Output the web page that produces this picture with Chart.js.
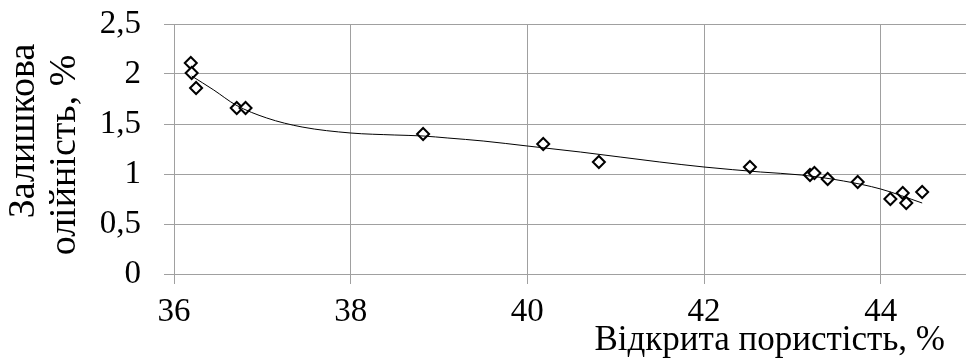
<!DOCTYPE html>
<html>
<head>
<meta charset="utf-8">
<script src="https://cdn.jsdelivr.net/npm/chart.js@4"></script>
<style>
  html, body { margin: 0; padding: 0; background: #fff; overflow: hidden; }
  #wrap { width: 966px; height: 363px; overflow: hidden; }
</style>
</head>
<body>
<div id="wrap"><canvas id="chart" width="969" height="363"></canvas></div>
<script>
// measured samples
const porosity = [36.19, 36.20, 36.25, 36.71, 36.81, 38.82, 40.18, 40.81, 42.52, 43.20, 43.25, 43.40, 43.74, 44.11, 44.25, 44.29, 44.47];
const residualOil = [2.11, 2.01, 1.86, 1.66, 1.66, 1.40, 1.30, 1.12, 1.07, 0.99, 1.01, 0.95, 0.92, 0.75, 0.81, 0.71, 0.82];

// trend line
const trendX = [36.2, 36.45, 36.7, 37.05, 37.45, 38.0, 38.5, 38.82, 39.1, 39.5, 40.0, 40.6, 41.05, 41.5, 42.0, 42.64, 43.1, 43.58, 44.0, 44.47];
const trendY = [1.98, 1.84, 1.69, 1.56, 1.47, 1.41, 1.39, 1.38, 1.36, 1.33, 1.28, 1.22, 1.17, 1.12, 1.07, 1.02, 0.99, 0.93, 0.85, 0.71];

const xTicks = [36, 38, 40, 42, 44];
const yTicks = [0, 0.5, 1, 1.5, 2, 2.5];

const xTitle = 'Відкрита пористість, %';
const yTitle = ['Залишкова', 'олійність, %'];

const FONT = '"Liberation Serif", "Times New Roman", serif';
const GRID = '#a0a0a0';

const axisTitles = {
  id: 'axisTitles',
  afterDraw(chart) {
    const ctx = chart.ctx;
    const area = chart.chartArea;
    ctx.save();
    ctx.fillStyle = '#000';
    ctx.font = '35px ' + FONT;
    ctx.textAlign = 'right';
    ctx.textBaseline = 'alphabetic';
    ctx.fillText(xTitle, area.right - 24, area.bottom + 76);

    ctx.font = '38px ' + FONT;
    ctx.textAlign = 'center';
    ctx.textBaseline = 'middle';
    const centers = [[24, 131], [65, 155]];
    yTitle.forEach((line, i) => {
      ctx.save();
      ctx.translate(centers[i][0], centers[i][1]);
      ctx.rotate(-Math.PI / 2);
      ctx.fillText(line, 0, 0);
      ctx.restore();
    });
    ctx.restore();
  }
};

const comma = v => String(v).replace('.', ',');

new Chart(document.getElementById('chart'), {
  type: 'scatter',
  data: {
    datasets: [
      {
        label: 'trend',
        data: trendX.map((x, i) => ({ x, y: trendY[i] })),
        showLine: true,
        borderColor: '#000',
        borderWidth: 1,
        pointRadius: 0,
        cubicInterpolationMode: 'monotone',
        fill: false
      },
      {
        label: 'samples',
        data: porosity.map((x, i) => ({ x, y: residualOil[i] })),
        pointStyle: 'rectRot',
        pointRadius: 6,
        pointBorderWidth: 2,
        borderColor: '#000',
        backgroundColor: '#fff'
      }
    ]
  },
  options: {
    responsive: false,
    animation: false,
    devicePixelRatio: 1,
    layout: { autoPadding: false, padding: { top: 24, left: 0, right: 0, bottom: 0 } },
    plugins: { legend: { display: false }, tooltip: { enabled: false } },
    scales: {
      x: {
        type: 'linear',
        min: 36,
        max: 45,
        afterBuildTicks: s => { s.ticks = xTicks.map(v => ({ value: v })); },
        afterFit: s => { s.height = 89; s.paddingLeft = 0; s.paddingRight = 0; },
        grid: { color: GRID, lineWidth: 1, tickLength: 10, drawTicks: true },
        border: { color: GRID, width: 1 },
        ticks: { color: '#000', font: { family: FONT, size: 33 }, padding: 9, maxRotation: 0, callback: comma }
      },
      y: {
        min: 0,
        max: 2.5,
        afterBuildTicks: s => { s.ticks = yTicks.map(v => ({ value: v })); },
        afterFit: s => { s.width = 174; s.paddingTop = 0; s.paddingBottom = 0; },
        grid: { color: GRID, lineWidth: 1, tickLength: 10, drawTicks: true },
        border: { color: GRID, width: 1 },
        ticks: { color: '#000', font: { family: FONT, size: 33 }, padding: 23, callback: comma }
      }
    }
  },
  plugins: [axisTitles]
});
</script>
</body>
</html>
